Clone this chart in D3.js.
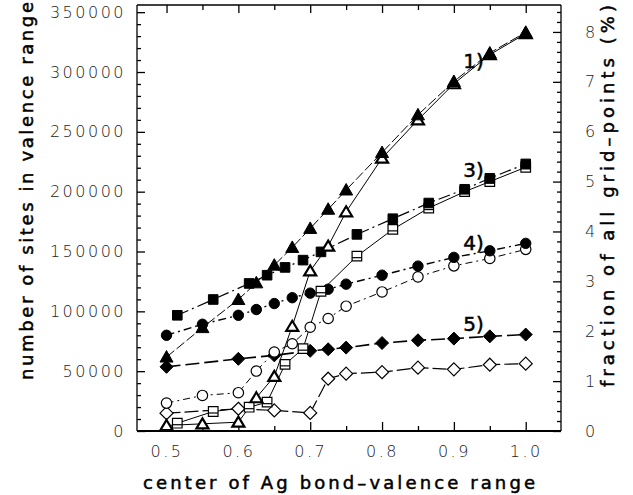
<!DOCTYPE html>
<html>
<head>
<meta charset="utf-8">
<script src="https://cdn.jsdelivr.net/npm/d3@7"></script>
<style>
  body { margin: 0; background: #fff; }
  svg { display: block; }
  .tick text { font-family: "DejaVu Sans ExtraLight", "DejaVu Sans", sans-serif; font-weight: 200; font-size: 16px; fill: #222; letter-spacing: 2.5px; }
  .title { font-family: "DejaVu Sans", sans-serif; font-size: 18px; fill: #000; stroke: #000; stroke-width: 0.5px; }
</style>
</head>
<body>
<div id="chart-area"></div>
<script>
// x values (center of Ag bond-valence range)
const xMain = [0.5, 0.55, 0.6, 0.625, 0.65, 0.675, 0.7, 0.725, 0.75, 0.8, 0.85, 0.9, 0.95, 1.0];
const xSquare = [0.515, 0.565, 0.615, 0.64, 0.665, 0.69, 0.715, 0.765, 0.815, 0.865, 0.915, 0.95, 1.0];
const xDiamond = [0.5, 0.6, 0.65, 0.7, 0.725, 0.75, 0.8, 0.85, 0.9, 0.95, 1.0];

// number of sites
const triFilled = [61800, 86400, 109900, 123800, 138600, 153400, 169300, 185300, 201400, 232700, 264200, 292100, 315900, 333200];
const triOpen = [4600, 6000, 7400, 27800, 45600, 87500, 133800, 154500, 183200, 228000, 260000, 290200, 314500, 332100];
const sqFilled = [96700, 109900, 123300, 130200, 136700, 142800, 149700, 164300, 177400, 190500, 202000, 211200, 223200];
const sqOpen = [6500, 16300, 19900, 24100, 55700, 68800, 116800, 146100, 168500, 186300, 200000, 208400, 220400];
const circFilled = [80000, 89200, 96700, 101500, 106500, 111400, 115200, 118500, 122700, 130200, 137800, 145100, 150600, 156800];
const circOpen = [23300, 29700, 32000, 50100, 66000, 72900, 86700, 94000, 104300, 116200, 128800, 138000, 144200, 151800];
const diaFilled = [53600, 60300, 63200, 67000, 68300, 69700, 73500, 75800, 77200, 79100, 80600];
const diaOpen = [14900, 18600, 17200, 15100, 43700, 47900, 49200, 52900, 51500, 55400, 56300];

// tick labels
const xTicks = [0.5, 0.6, 0.7, 0.8, 0.9, 1.0];
const yLeftTicks = [0, 50000, 100000, 150000, 200000, 250000, 300000, 350000];
const yRightTicks = [0, 1, 2, 3, 4, 5, 6, 7, 8];

// curve labels: text, x, y (data coords)
const labelText = ["1)", "3)", "4)", "5)"];
const labelX = [0.913, 0.913, 0.913, 0.913];
const labelY = [303400, 212200, 151100, 83300];

const margin = { left: 137, right: 72, top: 5, bottom: 64 };
const width = 633 - margin.left - margin.right,
    height = 495 - margin.top - margin.bottom;

const svg = d3.select("#chart-area")
    .append("svg")
    .attr("width", 633)
    .attr("height", 495);

const g = svg.append("g")
    .attr("transform", "translate(" + margin.left + ", " + margin.top + ")");

const x = d3.scaleLinear().domain([0.4589, 1.0491]).range([0, width]);
const yL = d3.scaleLinear().domain([0, 356000]).range([height, 0]);
const yR = d3.scaleLinear().domain([0, 8.54]).range([height, 0]);

// AXES (ticks point inward)
const xMinor = d3.range(0.5, 1.05, 0.05).filter(v => Math.abs(v * 10 - Math.round(v * 10)) > 0.01);
const yLMinor = d3.range(10000, 356000, 10000).filter(v => v % 50000 !== 0);
const yRMinor = d3.range(0.2, 8.54, 0.2).filter(v => Math.abs(v - Math.round(v)) > 0.01);

g.append("g").attr("transform", "translate(0," + height + ")")
    .call(d3.axisBottom(x).tickValues(xTicks).tickFormat(d3.format(".1f")).tickSizeInner(-9).tickSizeOuter(0).tickPadding(15));
g.append("g").attr("transform", "translate(0," + height + ")")
    .call(d3.axisBottom(x).tickValues(xMinor).tickFormat("").tickSizeInner(-5).tickSizeOuter(0));
g.append("g")
    .call(d3.axisTop(x).tickValues(xTicks).tickFormat("").tickSizeInner(-8).tickSizeOuter(0));
g.append("g")
    .call(d3.axisTop(x).tickValues(xMinor).tickFormat("").tickSizeInner(-5).tickSizeOuter(0));

g.append("g")
    .call(d3.axisLeft(yL).tickValues(yLeftTicks).tickFormat(d3.format("d")).tickSizeInner(-8).tickSizeOuter(0).tickPadding(11));
g.append("g")
    .call(d3.axisLeft(yL).tickValues(yLMinor).tickFormat("").tickSizeInner(-4).tickSizeOuter(0));

g.append("g").attr("transform", "translate(" + width + ",0)")
    .call(d3.axisRight(yR).tickValues(yRightTicks).tickSizeInner(-8).tickSizeOuter(0).tickPadding(24));
g.append("g").attr("transform", "translate(" + width + ",0)")
    .call(d3.axisRight(yR).tickValues(yRMinor).tickFormat("").tickSizeInner(-4).tickSizeOuter(0));

g.selectAll(".domain").remove();
g.selectAll(".tick line").attr("stroke", "#000").attr("stroke-width", 1.3);

// FRAME
g.append("line").attr("x1", 0).attr("x2", width).attr("y1", height).attr("y2", height).attr("stroke", "#000").attr("stroke-width", 2.2);
g.append("line").attr("x1", 0).attr("x2", width).attr("y1", 0).attr("y2", 0).attr("stroke", "#000").attr("stroke-width", 1.6);
g.append("line").attr("x1", 0).attr("x2", 0).attr("y1", 0).attr("y2", height).attr("stroke", "#000").attr("stroke-width", 1.3);
g.append("line").attr("x1", width).attr("x2", width).attr("y1", 0).attr("y2", height).attr("stroke", "#000").attr("stroke-width", 1.3);

// SERIES
const series = [
    { xs: xDiamond, ys: diaOpen, shape: "diamond", fill: false, dash: "14,4", w: 1.2 },
    { xs: xDiamond, ys: diaFilled, shape: "diamond", fill: true, dash: "14,5", w: 1.6 },
    { xs: xMain, ys: circOpen, shape: "circle", fill: false, dash: "7,4,2,4", w: 1 },
    { xs: xMain, ys: circFilled, shape: "circle", fill: true, dash: "8,4,2,4", w: 1.4 },
    { xs: xSquare, ys: sqOpen, shape: "square", fill: false, dash: null, w: 1 },
    { xs: xSquare, ys: sqFilled, shape: "square", fill: true, dash: "12,4,2,4", w: 1.2 },
    { xs: xMain, ys: triOpen, shape: "triangle", fill: false, dash: null, w: 1 },
    { xs: xMain, ys: triFilled, shape: "triangle", fill: true, dash: "10,3", w: 1 }
];

const line = d3.line().x(d => x(d[0])).y(d => yL(d[1]));

series.forEach(function (s) {
    const pts = s.xs.map((v, i) => [v, s.ys[i]]);
    g.append("path")
        .attr("d", line(pts))
        .attr("fill", "none")
        .attr("stroke", "#000")
        .attr("stroke-width", s.w)
        .attr("stroke-dasharray", s.dash);
});

function markerPath(shape, open) {
    if (shape === "triangle") return open ? "M0,-5.5L6,4.5L-6,4.5Z" : "M0,-6.5L6.5,5L-6.5,5Z";
    if (shape === "square") return "M-4.8,-4.8H4.8V4.8H-4.8Z";
    if (shape === "diamond") return "M0,-6.5L6.5,0L0,6.5L-6.5,0Z";
    return "M5.2,0A5.2,5.2 0 1,1 -5.2,0A5.2,5.2 0 1,1 5.2,0Z";
}

series.forEach(function (s) {
    const pts = s.xs.map((v, i) => [v, s.ys[i]]);
    const m = g.append("g").selectAll("g")
        .data(pts)
        .enter()
        .append("g")
        .attr("transform", d => "translate(" + x(d[0]) + "," + yL(d[1]) + ")");
    m.append("path")
        .attr("d", markerPath(s.shape, !s.fill))
        .attr("fill", s.fill ? "#000" : "#fff")
        .attr("stroke", "#000")
        .attr("stroke-width", s.fill ? 1 : (s.shape === "triangle" ? 2.2 : 1.2));
    if (s.shape === "square" && !s.fill) {
        m.append("line")
            .attr("x1", -4.8).attr("x2", 4.8).attr("y1", 1.5).attr("y2", 1.5)
            .attr("stroke", "#000").attr("stroke-width", 1.2);
    }
});

// CURVE LABELS
g.selectAll(".curve-label")
    .data(labelText)
    .enter()
    .append("text")
    .attr("class", "title")
    .attr("x", (d, i) => x(labelX[i]))
    .attr("y", (d, i) => yL(labelY[i]))
    .attr("font-size", "20px")
    .style("font-size", "20px")
    .text(d => d);

// AXIS TITLES
svg.append("text")
    .attr("class", "title")
    .attr("x", 339)
    .attr("y", 489)
    .attr("text-anchor", "middle")
    .attr("textLength", 392)
    .attr("lengthAdjust", "spacing")
    .text("center of Ag bond\u2013valence range");

svg.append("text")
    .attr("class", "title")
    .attr("transform", "translate(33,191) rotate(-90)")
    .attr("text-anchor", "middle")
    .attr("textLength", 378)
    .attr("lengthAdjust", "spacing")
    .text("number of sites in valence range");

svg.append("text")
    .attr("class", "title")
    .attr("transform", "translate(614,196) rotate(-90)")
    .attr("text-anchor", "middle")
    .attr("textLength", 382)
    .attr("lengthAdjust", "spacing")
    .text("fraction of all grid\u2013points  (%)");
</script>
</body>
</html>
